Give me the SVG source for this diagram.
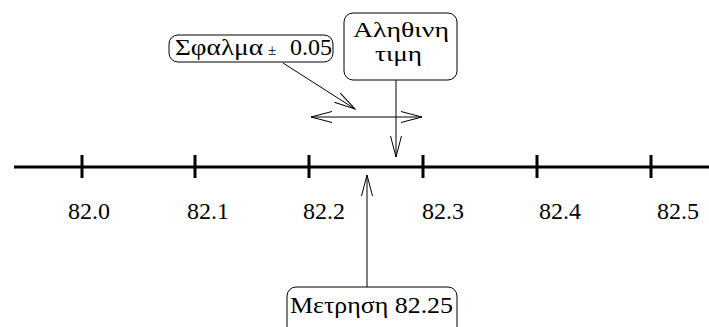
<svg xmlns="http://www.w3.org/2000/svg" width="709" height="327" viewBox="0 0 709 327">
<style>
text{font-family:"Liberation Serif","DejaVu Serif",serif;fill:#000;font-size:24px}
.box{fill:#fff;stroke:#000;stroke-width:1}
.ax{stroke:#000;stroke-width:3;fill:none}
.ln{stroke:#000;stroke-width:1;fill:none}
.g2{font-size:21px}
</style>
<defs>
<marker id="oa" viewBox="0 0 22 12" refX="21" refY="6" markerWidth="22" markerHeight="12" markerUnits="userSpaceOnUse" orient="auto-start-reverse">
<path d="M0,0.5 L21,6 L0,11.5" fill="none" stroke="#000" stroke-width="1"/>
</marker>
</defs>
<g id="axis">
<line class="ax" x1="14" y1="167" x2="709" y2="167"/>
<line class="ax" x1="82" y1="155" x2="82" y2="178"/>
<line class="ax" x1="195" y1="155" x2="195" y2="178"/>
<line class="ax" x1="309" y1="155" x2="309" y2="178"/>
<line class="ax" x1="423" y1="155" x2="423" y2="178"/>
<line class="ax" x1="537" y1="155" x2="537" y2="178"/>
<line class="ax" x1="651" y1="155" x2="651" y2="178"/>
<text x="89" y="219" text-anchor="middle">82.0</text>
<text x="208" y="219" text-anchor="middle">82.1</text>
<text x="324" y="219" text-anchor="middle">82.2</text>
<text x="443" y="219" text-anchor="middle">82.3</text>
<text x="560" y="219" text-anchor="middle">82.4</text>
<text x="678" y="219" text-anchor="middle">82.5</text>
</g>
<g id="connectors">
<line class="ln" x1="283" y1="63" x2="355" y2="109" marker-end="url(#oa)"/>
<line class="ln" x1="311" y1="117" x2="422" y2="117" marker-start="url(#oa)" marker-end="url(#oa)"/>
<line class="ln" x1="396" y1="80" x2="396" y2="157" marker-end="url(#oa)"/>
<line class="ln" x1="367" y1="287" x2="367" y2="175" marker-end="url(#oa)"/>
</g>
<g id="sfalma">
<rect class="box" x="169" y="35" width="164" height="27" rx="9"/>
<text x="175" y="55" textLength="88" lengthAdjust="spacingAndGlyphs">Σφαλμα</text>
<text x="268" y="55" style="font-size:15px">±</text>
<text x="290" y="55" textLength="42" lengthAdjust="spacingAndGlyphs">0.05</text>
</g>
<g id="alithini">
<rect class="box" x="344" y="13" width="113" height="67" rx="9"/>
<text class="g2" x="353" y="37" textLength="96" lengthAdjust="spacingAndGlyphs">Αληθινη</text>
<text class="g2" x="375" y="61" textLength="47" lengthAdjust="spacingAndGlyphs">τιμη</text>
</g>
<g id="metrisi">
<rect class="box" x="287" y="287" width="170" height="50" rx="9"/>
<text x="290" y="313" textLength="163" lengthAdjust="spacingAndGlyphs">Μετρηση 82.25</text>
</g>
</svg>
